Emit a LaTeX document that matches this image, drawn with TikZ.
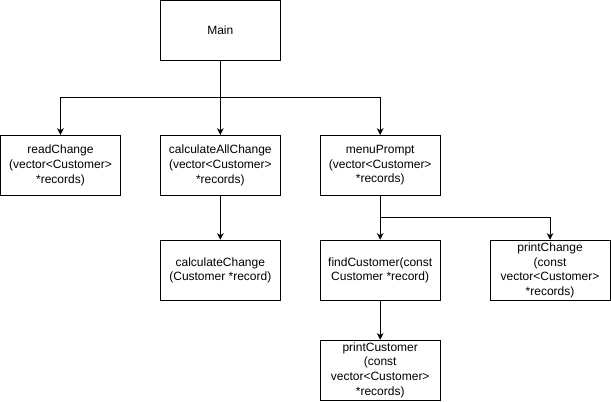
\documentclass[tikz,border=0pt]{standalone}
\usepackage{fontspec}
\setmainfont{Liberation Sans}
\usetikzlibrary{arrows.meta}
\begin{document}
\begin{tikzpicture}[x=0.75pt,y=-0.75pt,
  box/.style={draw=black,line width=0.75pt,minimum width=90pt,minimum height=45pt,inner sep=0pt,align=center,font=\fontsize{9pt}{11pt}\selectfont},
  arr/.style={draw=black,line width=0.75pt,-{Stealth[length=5pt,width=5pt,inset=1.5pt]}}]
\useasboundingbox[fill=white] (-0.5,-0.5) rectangle (611,401);
\node[box] (main) at (220,30) {Main};
\node[box] (read) at (60,165) {readChange\\(vector<Customer>\\*records)};
\node[box] (calcall) at (220,165) {calculateAllChange\\(vector<Customer>\\*records)};
\node[box] (menu) at (380,165) {menuPrompt\\(vector<Customer>\\*records)};
\node[box] (calc) at (220,270) {calculateChange\\(Customer *record)};
\node[box] (find) at (380,270) {findCustomer(const\\Customer *record)};
\node[box] (pchange) at (550,270) {printChange\\(const\\vector<Customer>\\*records)};
\node[box] (pcust) at (380,370) {printCustomer\\(const\\vector<Customer>\\*records)};
\coordinate (j1) at (220,97.5);
\coordinate (j2) at (380,217);
\draw[arr] (main.south) -- (calcall.north);
\draw[arr] (main.south) -- (j1) -| (read.north);
\draw[arr] (main.south) -- (j1) -| (menu.north);
\draw[arr] (calcall.south) -- (calc.north);
\draw[arr] (menu.south) -- (find.north);
\draw[arr] (menu.south) -- (j2) -| (pchange.north);
\draw[arr] (find.south) -- (pcust.north);
\end{tikzpicture}
\end{document}
